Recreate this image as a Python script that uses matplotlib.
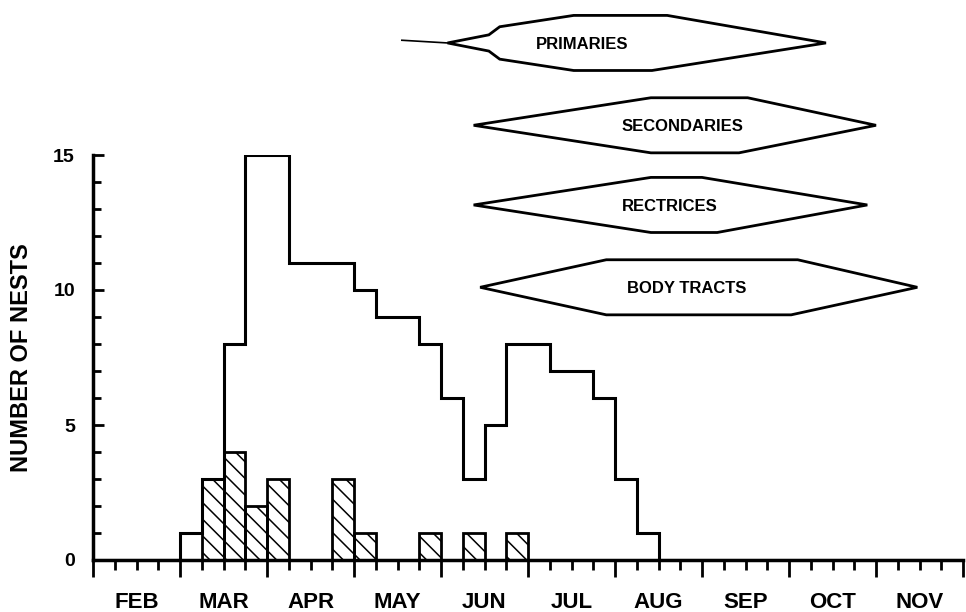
import numpy as np
import matplotlib
matplotlib.use("Agg")
import matplotlib.pyplot as plt
from matplotlib.patches import Polygon

# x is counted in quarter-months from 1 Feb (4 bins per month)
months = ["FEB", "MAR", "APR", "MAY", "JUN", "JUL", "AUG", "SEP", "OCT", "NOV"]

# all nests per quarter-month bin (bins 0..39)
total_nests = [0, 0, 0, 0, 1, 3, 8, 15, 15, 11,
               11, 11, 10, 9, 9, 8, 6, 3, 5, 8,
               8, 7, 7, 6, 3, 1, 0, 0, 0, 0,
               0, 0, 0, 0, 0, 0, 0, 0, 0, 0]
# hatched subset
hatched_nests = [0, 0, 0, 0, 0, 3, 4, 2, 3, 0,
                 0, 3, 1, 0, 0, 1, 0, 1, 0, 1,
                 0, 0, 0, 0, 0, 0, 0, 0, 0, 0,
                 0, 0, 0, 0, 0, 0, 0, 0, 0, 0]

# molt periods (quarter-month units): start, full molt start, full molt end (top/bottom), end
tracts = ["PRIMARIES", "SECONDARIES", "RECTRICES", "BODY TRACTS"]
molt_start = [16.3, 17.5, 17.5, 17.8]
molt_full_start = [22.1, 25.65, 25.65, 23.6]
molt_full_end_top = [26.4, 30.1, 28.0, 32.4]
molt_full_end_bot = [25.7, 29.7, 28.7, 32.1]
molt_end = [33.7, 36.0, 35.6, 37.9]
label_x = [22.5, 27.1, 26.5, 27.3]

plt.rcParams["font.family"] = ["Liberation Sans", "DejaVu Sans"]
plt.rcParams["hatch.linewidth"] = 1.1

fig = plt.figure(figsize=(9.66, 6.12), dpi=100)
ax = fig.add_axes([93 / 966, 52 / 612, 870 / 966, 405 / 612])

edges = np.arange(len(total_nests) + 1)
ax.stairs(total_nests, edges, color="black", linewidth=2.2, baseline=0)
ax.bar(edges[:-1], hatched_nests, width=1, align="edge", fill=False,
       hatch="\\\\", edgecolor="black", linewidth=2.0)

ax.set_xlim(0, 40)
ax.set_ylim(0, 15)
ax.spines["top"].set_visible(False)
ax.spines["right"].set_visible(False)
ax.spines["left"].set_linewidth(2.5)
ax.spines["bottom"].set_linewidth(2.5)

ax.set_xticks(range(0, 41, 4))
ax.set_xticks([i for i in range(41) if i % 4], minor=True)
ax.set_xticklabels([])
ax.tick_params(axis="x", which="major", direction="out", length=12, width=2)
ax.tick_params(axis="x", which="minor", direction="out", length=7, width=2)

ax.set_yticks([0, 5, 10, 15])
ax.set_yticks(range(16), minor=True)
ax.set_yticklabels(["0", "5", "10", "15"], fontsize=14, fontweight="bold")
ax.tick_params(axis="y", which="major", direction="in", length=8, width=2, pad=13)
ax.tick_params(axis="y", which="minor", direction="in", length=6, width=2)

for i, m in enumerate(months):
    ax.text(4 * i + 2, -0.104, m, transform=ax.get_xaxis_transform(),
            ha="center", va="center", fontsize=16, fontweight="bold")

ax.set_ylabel("NUMBER OF NESTS", fontsize=17, fontweight="bold")
ax.yaxis.set_label_coords(-0.069, 0.5)

# molt diagrams above the histogram
rows = [19.15, 16.1, 13.15, 10.1]
half = 1.02
for k, name in enumerate(tracts):
    y = rows[k]
    if k == 0:
        pts = [(molt_start[k], y), (18.2, y + 0.3), (18.7, y + 0.6),
               (molt_full_start[k], y + half), (molt_full_end_top[k], y + half),
               (molt_end[k], y), (molt_full_end_bot[k], y - half),
               (molt_full_start[k], y - half), (18.7, y - 0.6), (18.2, y - 0.3)]
    else:
        pts = [(molt_start[k], y), (molt_full_start[k], y + half),
               (molt_full_end_top[k], y + half), (molt_end[k], y),
               (molt_full_end_bot[k], y - half), (molt_full_start[k], y - half)]
    ax.add_patch(Polygon(pts, closed=True, fill=False, edgecolor="black",
                         linewidth=2.0, clip_on=False, joinstyle="miter"))
    ax.text(label_x[k], y - 0.05, name, ha="center", va="center",
            fontsize=12, fontweight="bold", clip_on=False)

ax.plot([14.2, molt_start[0]], [19.25, 19.15], color="black", linewidth=1.2,
        clip_on=False)

fig.savefig("out.png", dpi=100)
